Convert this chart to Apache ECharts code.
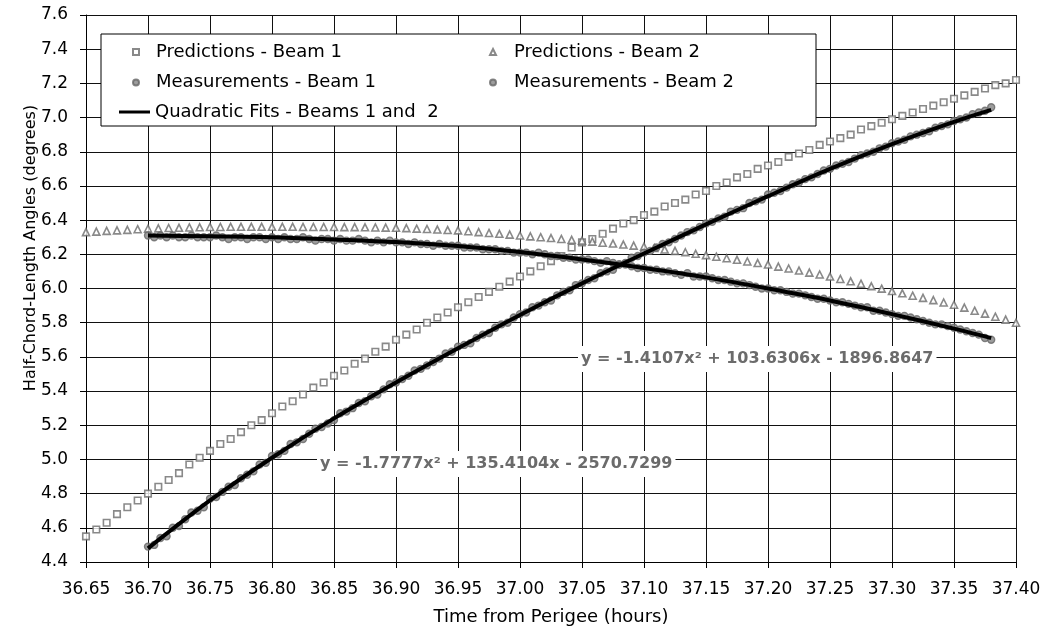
<!DOCTYPE html>
<html>
<head>
<meta charset="utf-8">
<title>Half-Chord-Length Angles</title>
<script src="https://cdn.jsdelivr.net/npm/echarts@6/dist/echarts.min.js"></script>
<style>
  html, body { margin: 0; padding: 0; background: #fff; }
  #chart { width: 1045px; height: 631px; }
</style>
</head>
<body>
<div id="chart"></div>
<script>
// time grids (hours from perigee)
var predStart = 36.65, predStep = 1 / 120;   // predictions every 30 s
var measStart = 36.70, measStep = 0.005;     // measurements
var fitTimes = [36.70, 36.75, 36.80, 36.85, 36.90, 36.95, 37.00, 37.05, 37.10, 37.15, 37.20, 37.25, 37.30, 37.35, 37.38];

// predictions - beam 1 (degrees)
var predBeam1 = [
  4.55, 4.59, 4.63, 4.68, 4.72, 4.76,
  4.80, 4.84, 4.88, 4.92, 4.97, 5.01,
  5.05, 5.09, 5.12, 5.16, 5.20, 5.23,
  5.27, 5.31, 5.34, 5.38, 5.42, 5.45,
  5.49, 5.52, 5.56, 5.59, 5.63, 5.66,
  5.70, 5.73, 5.76, 5.80, 5.83, 5.86,
  5.89, 5.92, 5.95, 5.98, 6.01, 6.04,
  6.07, 6.10, 6.13, 6.16, 6.19, 6.24,
  6.27, 6.29, 6.32, 6.35, 6.38, 6.40,
  6.43, 6.45, 6.48, 6.50, 6.52, 6.55,
  6.57, 6.60, 6.62, 6.65, 6.67, 6.70,
  6.72, 6.74, 6.77, 6.79, 6.81, 6.84,
  6.86, 6.88, 6.90, 6.93, 6.95, 6.97,
  6.99, 7.01, 7.03, 7.05, 7.07, 7.09,
  7.11, 7.13, 7.15, 7.17, 7.19, 7.20, 7.22
];

// predictions - beam 2
var predBeam2 = [
  6.33, 6.333, 6.337, 6.34, 6.343, 6.347,
  6.35, 6.352, 6.354, 6.355, 6.357, 6.358,
  6.36, 6.36, 6.361, 6.361, 6.361, 6.361,
  6.361, 6.361, 6.361, 6.36, 6.36, 6.36,
  6.36, 6.359, 6.359, 6.358, 6.357, 6.356,
  6.355, 6.353, 6.35, 6.348, 6.345, 6.342,
  6.34, 6.335, 6.33, 6.325, 6.32, 6.315,
  6.31, 6.305, 6.30, 6.295, 6.29, 6.285,
  6.28, 6.274, 6.268, 6.263, 6.257, 6.251,
  6.245, 6.237, 6.228, 6.22, 6.212, 6.203,
  6.195, 6.186, 6.177, 6.168, 6.158, 6.149,
  6.14, 6.128, 6.117, 6.105, 6.093, 6.082,
  6.07, 6.056, 6.042, 6.028, 6.013, 5.999,
  5.985, 5.972, 5.958, 5.945, 5.932, 5.918,
  5.905, 5.888, 5.87, 5.853, 5.835, 5.818, 5.80
];

// measurements - beam 1
var measBeam1 = [
  4.49, 4.50, 4.54, 4.55, 4.60, 4.61, 4.65, 4.69, 4.70, 4.72,
  4.77, 4.78, 4.81, 4.84, 4.85, 4.89, 4.91, 4.93, 4.97, 4.98,
  5.02, 5.03, 5.05, 5.09, 5.10, 5.12, 5.15, 5.18, 5.19, 5.21,
  5.23, 5.27, 5.28, 5.30, 5.33, 5.34, 5.37, 5.38, 5.41, 5.44,
  5.45, 5.47, 5.49, 5.52, 5.53, 5.55, 5.57, 5.59, 5.62, 5.63,
  5.66, 5.67, 5.68, 5.71, 5.73, 5.74, 5.77, 5.79, 5.80, 5.83,
  5.85, 5.86, 5.89, 5.90, 5.92, 5.93, 5.96, 5.98, 5.99, 6.02,
  6.03, 6.05, 6.06, 6.09, 6.10, 6.11, 6.14, 6.15, 6.18, 6.19,
  6.21, 6.22, 6.24, 6.26, 6.27, 6.29, 6.31, 6.33, 6.34, 6.36,
  6.38, 6.39, 6.41, 6.42, 6.45, 6.46, 6.47, 6.50, 6.51, 6.52,
  6.55, 6.56, 6.57, 6.59, 6.61, 6.62, 6.64, 6.65, 6.67, 6.69,
  6.70, 6.72, 6.73, 6.74, 6.76, 6.78, 6.79, 6.80, 6.82, 6.83,
  6.85, 6.86, 6.87, 6.89, 6.90, 6.91, 6.92, 6.94, 6.95, 6.96,
  6.98, 6.99, 7.00, 7.02, 7.03, 7.04, 7.06
];

// measurements - beam 2
var measBeam2 = [
  6.31, 6.30, 6.31, 6.30, 6.31, 6.30, 6.30, 6.31, 6.30, 6.30,
  6.30, 6.31, 6.30, 6.29, 6.30, 6.30, 6.29, 6.30, 6.30, 6.29,
  6.30, 6.29, 6.30, 6.29, 6.29, 6.30, 6.29, 6.28, 6.29, 6.29,
  6.28, 6.29, 6.28, 6.28, 6.29, 6.28, 6.27, 6.28, 6.27, 6.28,
  6.27, 6.27, 6.26, 6.27, 6.26, 6.26, 6.25, 6.26, 6.25, 6.25,
  6.25, 6.24, 6.24, 6.24, 6.23, 6.23, 6.23, 6.22, 6.22, 6.21,
  6.21, 6.21, 6.20, 6.21, 6.20, 6.19, 6.19, 6.18, 6.18, 6.17,
  6.17, 6.17, 6.16, 6.15, 6.16, 6.15, 6.14, 6.14, 6.13, 6.12,
  6.12, 6.11, 6.11, 6.10, 6.10, 6.09, 6.08, 6.09, 6.07, 6.07,
  6.07, 6.06, 6.05, 6.05, 6.04, 6.03, 6.03, 6.02, 6.01, 6.00,
  6.00, 5.99, 5.99, 5.98, 5.97, 5.97, 5.96, 5.95, 5.94, 5.94,
  5.93, 5.92, 5.92, 5.91, 5.90, 5.89, 5.89, 5.87, 5.87, 5.86,
  5.85, 5.84, 5.84, 5.83, 5.82, 5.81, 5.80, 5.79, 5.79, 5.78,
  5.77, 5.76, 5.75, 5.74, 5.73, 5.71, 5.70
];

// quadratic fit curves
var fitBeam1 = [4.48, 4.76, 5.01, 5.24, 5.45, 5.65, 5.845, 6.03, 6.205, 6.375, 6.54, 6.70, 6.845, 6.975, 7.045];
var fitBeam2 = [6.31, 6.305, 6.30, 6.287, 6.272, 6.248, 6.213, 6.17, 6.12, 6.065, 6.00, 5.93, 5.85, 5.765, 5.71];

var fitLabel1 = "y = -1.4107x\u00B2 + 103.6306x - 1896.8647";
var fitLabel2 = "y = -1.7777x\u00B2 + 135.4104x - 2570.7299";
var yTitle = "Half-Chord-Length Angles (degrees)";

function pairs(start, step, vals) {
  return vals.map(function (v, i) { return [start + i * step, v]; });
}
function pairsAt(times, vals) {
  return vals.map(function (v, i) { return [times[i], v]; });
}

var FONT = "DejaVu Sans";
var GRAY = "#6b6b6b";
var FIT_NAME = "Quadratic Fits - Beams 1 and  2";
var legendText = { fontFamily: FONT, fontSize: 18, color: "#000", lineHeight: 18 };

var myChart = echarts.init(document.getElementById("chart"));

var option = {
  backgroundColor: "#fff",
  animation: false,
  grid: { left: 86, right: 29, top: 15, bottom: 66 },
  xAxis: {
    type: "value",
    min: 36.65, max: 37.40, interval: 0.05,
    name: "Time from Perigee (hours)",
    nameLocation: "middle",
    nameGap: 46,
    nameTextStyle: { fontFamily: FONT, fontSize: 18, color: "#000" },
    axisLine: { lineStyle: { color: "#000", width: 1 } },
    axisTick: { show: true, length: 6, lineStyle: { color: "#000" } },
    axisLabel: {
      fontFamily: FONT, fontSize: 17, color: "#000", margin: 19,
      formatter: function (v) { return v.toFixed(2); }
    },
    splitLine: { show: true, lineStyle: { color: "#111", width: 1 } }
  },
  yAxis: {
    type: "value",
    min: 4.4, max: 7.6, interval: 0.2,
    axisLine: { show: true, lineStyle: { color: "#000", width: 1 } },
    axisTick: { show: true, length: 6, lineStyle: { color: "#000" } },
    axisLabel: {
      fontFamily: FONT, fontSize: 17, color: "#000", margin: 18,
      formatter: function (v) { return v.toFixed(1); }
    },
    splitLine: { show: true, lineStyle: { color: "#111", width: 1 } }
  },
  legend: [
    {
      left: 127, top: 38, orient: "vertical",
      itemWidth: 6, itemHeight: 6, itemGap: 12.5,
      textStyle: Object.assign({ padding: [0, 0, 0, 12] }, legendText),
      data: ["Predictions - Beam 1", "Measurements - Beam 1"]
    },
    {
      left: 114, top: 98, orient: "vertical",
      itemWidth: 31, itemHeight: 3,
      textStyle: legendText,
      data: [{ name: FIT_NAME, icon: "rect" }]
    },
    {
      left: 484, top: 38, orient: "vertical",
      itemWidth: 6, itemHeight: 6, itemGap: 12.5,
      textStyle: Object.assign({ padding: [0, 0, 0, 13] }, legendText),
      data: ["Predictions - Beam 2", "Measurements - Beam 2"]
    }
  ],
  graphic: [
    {
      type: "rect", z: 3,
      shape: { x: 101, y: 34, width: 715, height: 92 },
      style: { fill: "#fff", stroke: "#000", lineWidth: 1 }
    },
    {
      // y-axis title
      type: "text", x: 31, y: 248, rotation: Math.PI / 2,
      style: {
        text: yTitle, fill: "#000", font: "16px 'DejaVu Sans'",
        align: "center", verticalAlign: "middle"
      }
    },
    {
      type: "text", z: 3, x: 578, y: 359,
      style: {
        text: fitLabel1, fill: GRAY, font: "bold 16px 'DejaVu Sans'",
        verticalAlign: "middle", backgroundColor: "#fff", padding: [5, 3]
      }
    },
    {
      type: "text", z: 3, x: 317, y: 464,
      style: {
        text: fitLabel2, fill: GRAY, font: "bold 16px 'DejaVu Sans'",
        verticalAlign: "middle", backgroundColor: "#fff", padding: [5, 3]
      }
    }
  ],
  series: [
    {
      name: "Predictions - Beam 1", type: "scatter",
      symbol: "rect", symbolSize: 6.5,
      itemStyle: { color: "#fff", borderColor: GRAY, borderWidth: 1.6 },
      data: pairs(predStart, predStep, predBeam1)
    },
    {
      name: "Predictions - Beam 2", type: "scatter",
      symbol: "triangle", symbolSize: 7,
      itemStyle: { color: "#fff", borderColor: GRAY, borderWidth: 1.6 },
      data: pairs(predStart, predStep, predBeam2)
    },
    {
      name: "Measurements - Beam 1", type: "scatter",
      symbol: "circle", symbolSize: 7,
      itemStyle: { color: "#858585", borderColor: "#666", borderWidth: 1.4 },
      data: pairs(measStart, measStep, measBeam1)
    },
    {
      name: "Measurements - Beam 2", type: "scatter",
      symbol: "circle", symbolSize: 7,
      itemStyle: { color: "#858585", borderColor: "#666", borderWidth: 1.4 },
      data: pairs(measStart, measStep, measBeam2)
    },
    {
      name: FIT_NAME, type: "line",
      smooth: 0.3, symbol: "none",
      lineStyle: { color: "#000", width: 4 },
      itemStyle: { color: "#000" },
      data: pairsAt(fitTimes, fitBeam1)
    },
    {
      name: FIT_NAME, type: "line",
      smooth: 0.3, symbol: "none",
      lineStyle: { color: "#000", width: 4 },
      itemStyle: { color: "#000" },
      data: pairsAt(fitTimes, fitBeam2)
    }
  ]
};

myChart.setOption(option);
</script>
</body>
</html>
